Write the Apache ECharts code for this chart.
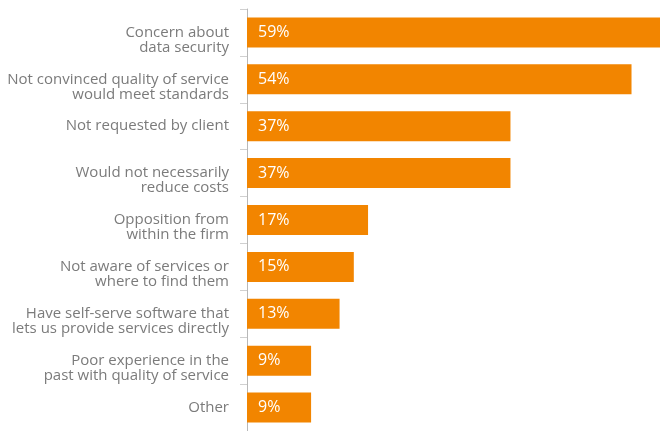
<!DOCTYPE html>
<html>
<head>
<meta charset="utf-8">
<script src="https://cdn.jsdelivr.net/npm/echarts@6/dist/echarts.min.js"></script>
<style>
  html, body { margin: 0; padding: 0; background: #fff; }
  #chart { width: 660px; height: 431px; }
</style>
</head>
<body>
<div id="chart"></div>
<script>
// Reasons given, top to bottom
const categories = [
  "Concern about\ndata security",
  "Not convinced quality of service\nwould meet standards",
  "Not requested by client",
  "Would not necessarily\nreduce costs",
  "Opposition from\nwithin the firm",
  "Not aware of services or\nwhere to find them",
  "Have self-serve software that\nlets us provide services directly",
  "Poor experience in the\npast with quality of service",
  "Other"
];
// Share of respondents (%)
const shares = [59, 54, 37, 37, 17, 15, 13, 9, 9];

const chart = echarts.init(document.getElementById('chart'), null, { renderer: 'canvas' });
const font = '"Open Sans", "Liberation Sans", sans-serif';

// Two-line labels sit a little lower than one-line ones: a thin empty
// first line pushes the block down.
function labelText(v) {
  const lines = v.split('\n').map(s => '{t|' + s + '}');
  if (lines.length > 1) lines.unshift('{s|}');
  return lines.join('\n');
}

chart.setOption({
  animation: false,
  grid: { left: 247, right: 0, top: 9, bottom: 0, containLabel: false },
  xAxis: {
    type: 'value',
    min: 0,
    max: 58,
    show: false
  },
  yAxis: {
    type: 'category',
    inverse: true,
    data: categories,
    axisLine: { show: true, lineStyle: { color: '#b8b8b8', width: 1 } },
    axisTick: { show: true, length: 7, lineStyle: { color: '#d0d0d0' } },
    axisLabel: {
      margin: 18,
      align: 'right',
      formatter: labelText,
      rich: {
        t: {
          color: '#7b7b7b',
          fontFamily: font,
          fontSize: 15,
          lineHeight: 15,
          align: 'right'
        },
        s: { fontSize: 1, lineHeight: 15 }
      }
    },
    splitLine: { show: false }
  },
  series: [{
    type: 'bar',
    data: shares,
    barWidth: 30,
    clip: true,
    itemStyle: { color: '#f28500' },
    label: {
      show: true,
      position: 'insideLeft',
      distance: 11,
      formatter: p => p.value + '%',
      color: '#ffffff',
      fontFamily: font,
      fontSize: 16
    }
  }]
});
</script>
</body>
</html>
